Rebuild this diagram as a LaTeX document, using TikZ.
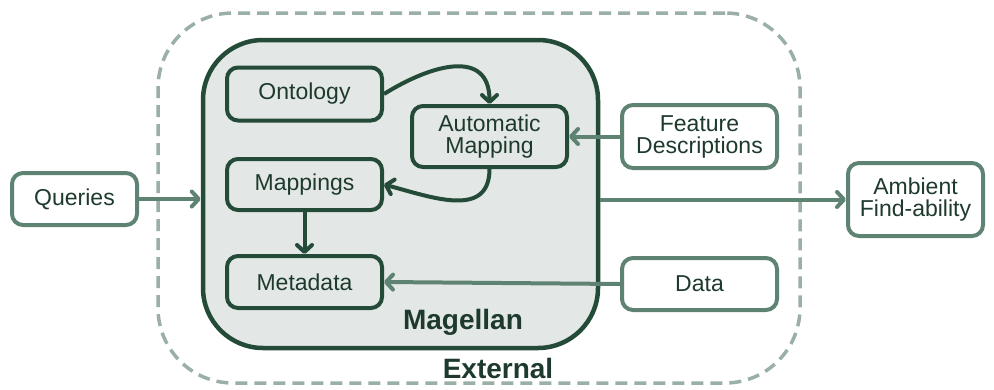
\documentclass[tikz,border=0pt]{standalone}
\usepackage{fontspec}
\setmainfont{Liberation Sans}
\usetikzlibrary{arrows.meta}
\definecolor{darkgr}{HTML}{244A38}
\definecolor{midgr}{HTML}{5F8372}
\definecolor{dashgr}{HTML}{9AAFA5}
\definecolor{panel}{HTML}{E3E8E6}
\definecolor{inkgr}{HTML}{1E3A2D}
\tikzset{
  tip/.style={-{Straight Barb[length=7pt,width=15pt,round]}},
  innerbox/.style={draw=darkgr, line width=4pt, rounded corners=11pt, fill=panel,
    minimum width=155pt, text=inkgr, font=\fontsize{23}{25}\selectfont, align=center},
  outerbox/.style={draw=midgr, line width=4pt, rounded corners=11pt, fill=white,
    text=inkgr, font=\fontsize{23}{25}\selectfont, align=center},
  darkflow/.style={tip, draw=darkgr, line width=4pt},
  lightflow/.style={tip, draw=midgr, line width=4pt},
  bigtitle/.style={text=inkgr, font=\fontsize{28}{30}\bfseries\selectfont}
}
\begin{document}
\begin{tikzpicture}[x=1pt,y=-1pt]
\useasboundingbox (0,0) rectangle (994,389);

% external boundary
\node[draw=dashgr, line width=3.5pt, dash pattern=on 12pt off 7pt, rounded corners=75pt,
  minimum width=642pt, minimum height=370pt] (external) at (479,198) {};
\node[bigtitle] (extlabel) at (498,368) {External};

% Magellan container
\node[draw=darkgr, line width=4.5pt, fill=panel, rounded corners=60pt,
  minimum width=395pt, minimum height=308pt] (magellan) at (400.5,194) {};
\node[bigtitle] (maglabel) at (463,322) {Magellan};

% inner components
\node[innerbox, minimum height=53pt] (ontology) at (304.5,94) {Ontology};
\node[innerbox, minimum height=61pt] (auto) at (489.5,136.5) {Automatic\\[-3pt]Mapping};
\node[innerbox, minimum height=51pt] (mappings) at (304.5,184.5) {Mappings};
\node[innerbox, minimum height=52pt] (metadata) at (304.5,282) {Metadata};

% external nodes
\node[outerbox, minimum width=125pt, minimum height=52pt] (queries) at (74.5,199) {Queries};
\node[outerbox, minimum width=155pt, minimum height=63pt] (feature) at (699.5,136.5) {Feature\\[-3pt]Descriptions};
\node[outerbox, minimum width=155pt, minimum height=52pt] (data) at (699.5,284) {Data};
\node[outerbox, minimum width=135pt, minimum height=73pt] (ambient) at (915.5,199.5) {Ambient\\[-3pt]Find-ability};

% flows inside Magellan
\draw[darkflow] (ontology.east) to[out=32,in=90,looseness=1.35] (auto.north);
\draw[darkflow] (auto.south) to[out=-90,in=-15,looseness=1.2] (mappings.east);
\draw[darkflow] (mappings.south) -- (metadata.north);

% flows across the boundary
\draw[lightflow] (queries.east) -- (magellan.west |- queries.east);
\draw[lightflow] (feature.west) -- (auto.east);
\draw[lightflow] (data.west) -- (metadata.east);
\draw[lightflow] (magellan.east |- ambient.west) -- (ambient.west);
\end{tikzpicture}
\end{document}
